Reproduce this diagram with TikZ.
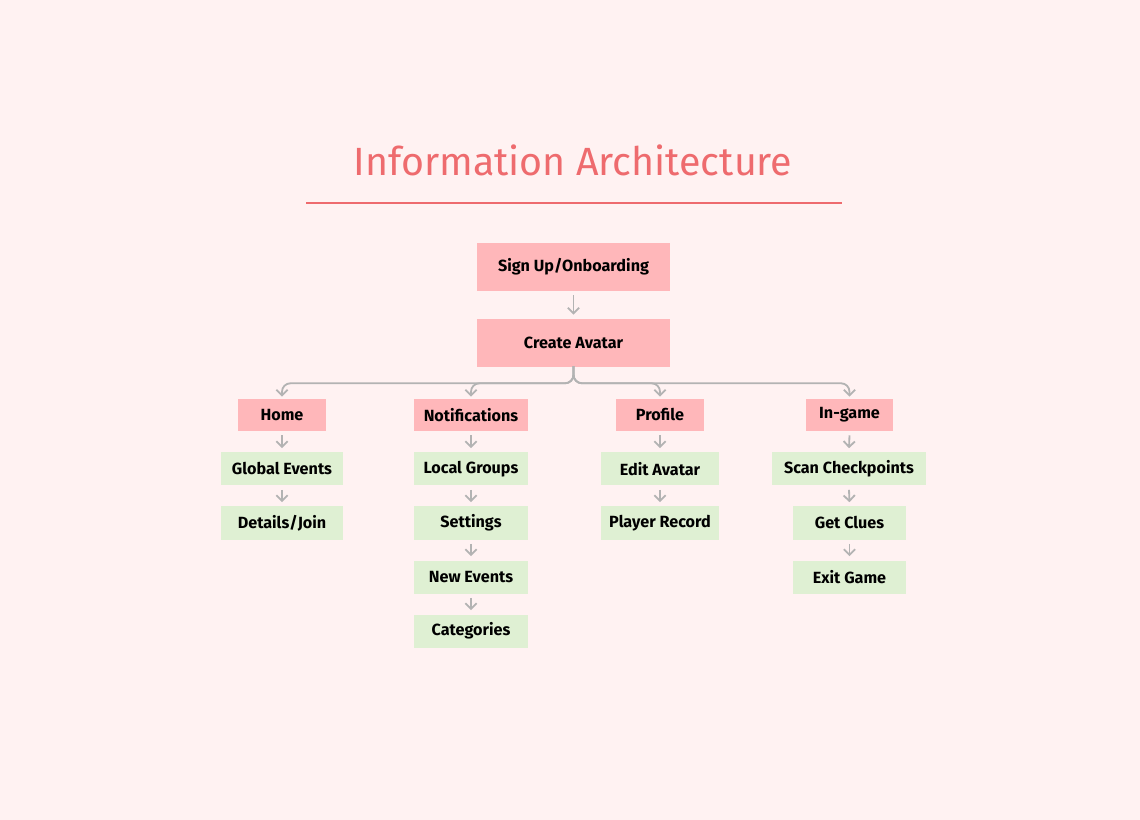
\documentclass[tikz,border=0pt]{standalone}
\usepackage{fontspec}
\setmainfont{Fira Sans}
\usetikzlibrary{arrows.meta,positioning}
\definecolor{bgpink}{HTML}{FFF2F2}
\definecolor{titlered}{HTML}{EE6B6E}
\definecolor{boxpink}{HTML}{FFB7BA}
\definecolor{boxgreen}{HTML}{DFF0D3}
\definecolor{linkgray}{HTML}{B3B3B3}
\tikzset{
  pinkbox/.style={fill=boxpink, minimum height=32*0.025cm, inner sep=0pt, font=\fontsize{11.5}{13}\selectfont\bfseries},
  greenbox/.style={fill=boxgreen, minimum height=33*0.025cm, inner sep=0pt, font=\fontsize{11.5}{13}\selectfont\bfseries},
  link/.style={draw=linkgray, line width=1.3pt, -{Straight Barb[length=4pt,width=8pt]}}
}
\begin{document}
\begin{tikzpicture}[x=0.025cm,y=-0.025cm]
\fill[bgpink] (0,0) rectangle (1140,820);
\useasboundingbox (0,0) rectangle (1140,820);

\node[text=titlered, font=\fontsize{28}{32}\selectfont] (title) at (573,160) {Information Architecture};
\draw[titlered, line width=2pt] (306,203) -- (842,203);

\node[pinkbox, minimum width=193*0.025cm, minimum height=48*0.025cm] (sign) at (573.5,267) {Sign Up/Onboarding};
\node[pinkbox, minimum width=193*0.025cm, minimum height=48*0.025cm] (avatar) at (573.5,343) {Create Avatar};

\node[pinkbox, minimum width=88*0.025cm] (home) at (282,415) {Home};
\node[pinkbox, minimum width=114*0.025cm] (notif) at (471,415) {Notifications};
\node[pinkbox, minimum width=88*0.025cm] (profile) at (660,415) {Profile};
\node[pinkbox, minimum width=87*0.025cm] (ingame) at (849.5,415) {In-game};

\node[greenbox, minimum width=122*0.025cm] (global) at (282,469) {Global Events};
\node[greenbox, minimum width=122*0.025cm] (details) at (282,523) {Details/Join};

\node[greenbox, minimum width=114*0.025cm] (local) at (471,469) {Local Groups};
\node[greenbox, minimum width=114*0.025cm] (settings) at (471,523) {Settings};
\node[greenbox, minimum width=114*0.025cm] (newev) at (471,577) {New Events};
\node[greenbox, minimum width=114*0.025cm] (categ) at (471,631) {Categories};

\node[greenbox, minimum width=118*0.025cm] (edit) at (660,469) {Edit Avatar};
\node[greenbox, minimum width=118*0.025cm] (record) at (660,523) {Player Record};

\node[greenbox, minimum width=154*0.025cm] (scan) at (849,469) {Scan Checkpoints};
\node[greenbox, minimum width=113*0.025cm] (clues) at (849.5,523) {Get Clues};
\node[greenbox, minimum width=113*0.025cm] (exit) at (849.5,577) {Exit Game};

\draw[link] ([yshift=-4*0.025cm]sign.south) -- ([yshift=4*0.025cm]avatar.north);

% brace to the four sections
\foreach \sec in {home,notif,profile,ingame}
  \draw[link, rounded corners=6pt] (avatar.south) -- ++(0,-6) |- ([yshift=-16*0.025cm]avatar.south -| \sec.north) -- ([yshift=2*0.025cm]\sec.north);

\foreach \a/\b in {home/global,global/details,notif/local,local/settings,settings/newev,newev/categ,profile/edit,edit/record,ingame/scan,scan/clues,clues/exit}
  \draw[link] ([yshift=-4*0.025cm]\a.south) -- ([yshift=4*0.025cm]\b.north);
\end{tikzpicture}
\end{document}
